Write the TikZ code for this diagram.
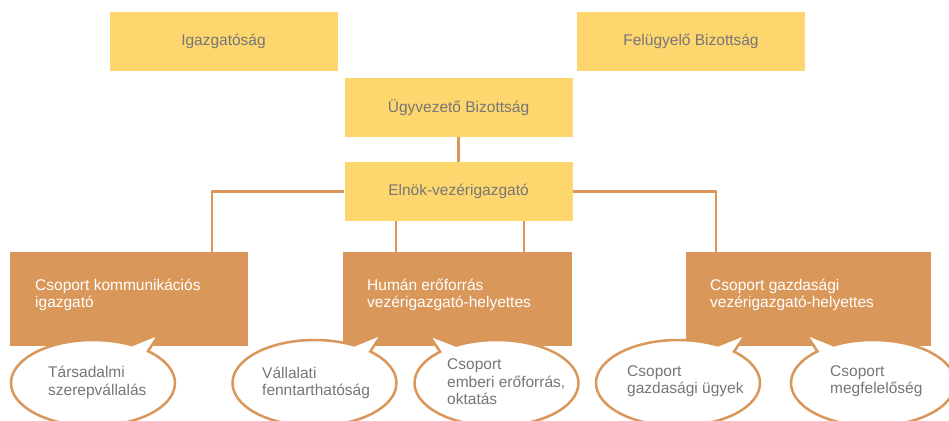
\documentclass[tikz,border=0pt]{standalone}
\usepackage{fontspec}
\setmainfont{Liberation Sans}
\usetikzlibrary{shapes.callouts,shapes.geometric}
\definecolor{boxyellow}{HTML}{FDD66E}
\definecolor{boxorange}{HTML}{DA975A}
\definecolor{txtgrey}{HTML}{767676}
\begin{document}
\begin{tikzpicture}[x=1pt,y=-1pt,font=\fontsize{15.5}{17.5}\selectfont,
  topbox/.style={rectangle, fill=boxyellow, minimum width=228pt, minimum height=59pt, text=txtgrey, inner sep=0pt},
  grpbox/.style={rectangle, fill=boxorange, minimum height=94pt, inner sep=0pt},
  grptext/.style={text=white, align=left, anchor=west, inner sep=0pt},
  bubble/.style={ellipse callout, draw=boxorange, line width=2.5pt, fill=white, minimum width=164pt, minimum height=86pt, inner sep=0pt, callout pointer arc=14},
  bubtext/.style={text=txtgrey, align=left, anchor=west, inner sep=0pt},
  conn/.style={draw=boxorange, line width=2.5pt}]
\useasboundingbox[fill=white] (0,0) rectangle (949,420);
% top boxes
\node[topbox] (ig) at (223.5,41.5) {Igazgatóság};
\node[topbox] (fb) at (691,41.5) {Felügyelő Bizottság};
\node[topbox] (uv) at (458.5,107.5) {Ügyvezető Bizottság};
\node[topbox] (el) at (458.5,191.5) {Elnök-vezérigazgató};
% group boxes
\node[grpbox, minimum width=238pt] (kom) at (129,299) {};
\node[grpbox, minimum width=229pt] (hum) at (457.5,299) {};
\node[grpbox, minimum width=245pt] (gaz) at (808.5,299) {};
\node[grptext] (komt) at (35,295) {Csoport kommunikációs\\igazgató};
\node[grptext] (humt) at (367,295) {Humán erőforrás\\vezérigazgató-helyettes};
\node[grptext] (gazt) at (710,295) {Csoport gazdasági\\vezérigazgató-helyettes};
% connectors
\coordinate (c1) at (212,0);
\coordinate (c2) at (396,0);
\coordinate (c3) at (524,0);
\coordinate (c4) at (716,0);
\draw[conn] (uv) -- (el);
\draw[conn] (el.west) -| (kom.north -| c1);
\draw[conn] (el.east) -| (gaz.north -| c4);
\draw[conn] (el.south -| c2) -- (hum.north -| c2);
\draw[conn] (el.south -| c3) -- (hum.north -| c3);
% bubbles
\node[bubble, callout absolute pointer={(159,334)}] (b1) at (93,383) {};
\node[bubble, callout absolute pointer={(382,334)}] (b2) at (314.5,383) {};
\node[bubble, callout absolute pointer={(429,335)}] (b3) at (496.5,383) {};
\node[bubble, callout absolute pointer={(746,334)}] (b4) at (678,383) {};
\node[bubble, callout absolute pointer={(806,334)}] (b5) at (873,383) {};
\node[bubtext] (b1t) at (48,382.5) {Társadalmi\\szerepvállalás};
\node[bubtext] (b2t) at (262,383) {Vállalati\\fenntarthatóság};
\node[bubtext] (b3t) at (447,382) {Csoport\\emberi erőforrás,\\oktatás};
\node[bubtext] (b4t) at (627,381) {Csoport\\gazdasági ügyek};
\node[bubtext] (b5t) at (830,381) {Csoport\\megfelelőség};
\end{tikzpicture}
\end{document}
